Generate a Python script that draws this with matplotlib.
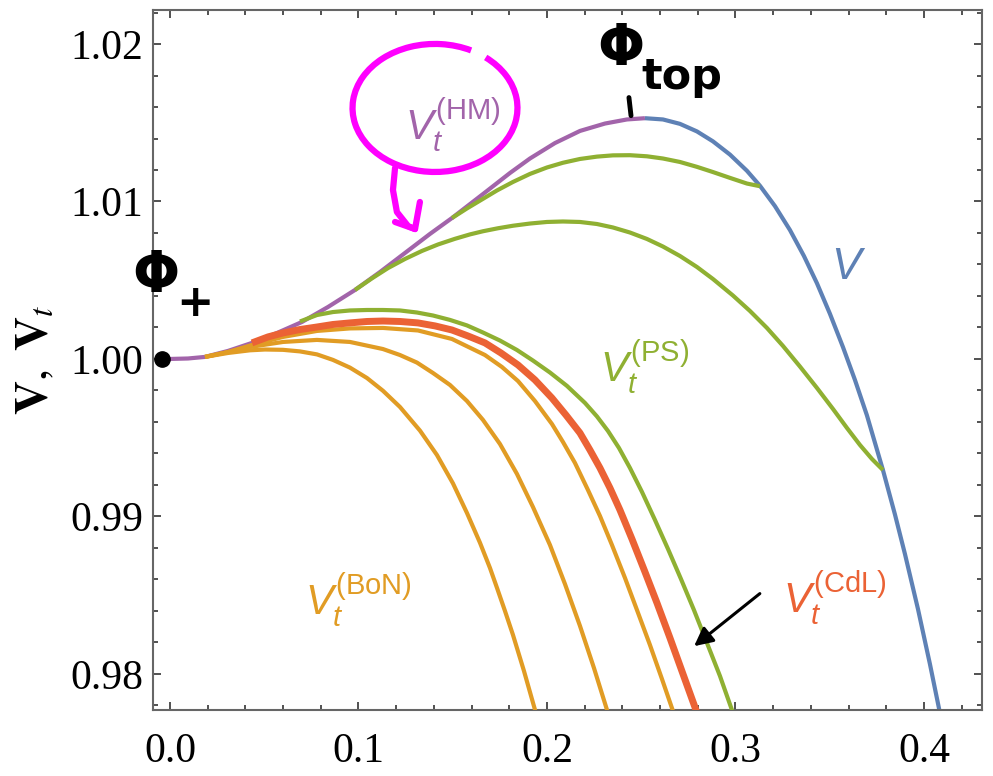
import matplotlib
matplotlib.use('Agg')
import matplotlib.pyplot as plt
from matplotlib.patches import Arc
from matplotlib.ticker import MultipleLocator, FixedLocator

plt.rcParams['mathtext.fontset'] = 'custom'
plt.rcParams['mathtext.rm'] = 'Liberation Sans'
plt.rcParams['mathtext.it'] = 'Liberation Sans:italic'
plt.rcParams['mathtext.bf'] = 'Liberation Sans:bold'

# ---------------- data ----------------
# V on [0, phi_top]  (this stretch is V_t^(HM))
hm_x = [0.0, 0.00955, 0.01857, 0.03077, 0.04350, 0.05676, 0.07003, 0.08382, 0.09814, 0.11141,
        0.12467, 0.13793, 0.14960, 0.16711, 0.18037, 0.19098, 0.20424, 0.21751, 0.23077, 0.24244, 0.25199]
hm_y = [1.00000, 1.00003, 1.00013, 1.00051, 1.00102, 1.00165, 1.00235, 1.00330, 1.00438, 1.00552,
        1.00673, 1.00794, 1.00895, 1.01057, 1.01181, 1.01273, 1.01371, 1.01448, 1.01495, 1.01521, 1.01529]

# V beyond phi_top
v_x = [0.25199, 0.26154, 0.27056, 0.27958, 0.28806, 0.29708, 0.30610, 0.31300, 0.32095, 0.32891,
       0.33634, 0.34324, 0.35013, 0.35703, 0.36340, 0.36976, 0.37825, 0.38462, 0.38992, 0.39682,
       0.40318, 0.40849, 0.41061]
v_y = [1.01529, 1.01521, 1.01493, 1.01445, 1.01382, 1.01298, 1.01195, 1.01100, 1.00971, 1.00819,
       1.00654, 1.00481, 1.00287, 1.00076, 0.99867, 0.99642, 0.99295, 0.99013, 0.98762, 0.98413,
       0.98063, 0.97752, 0.97625]

# V_t^(PS) curves
ps1_x = [0.14960, 0.15756, 0.16552, 0.17347, 0.18196, 0.19098, 0.20000, 0.20849, 0.21751, 0.22653,
         0.23501, 0.24403, 0.25305, 0.26154, 0.27056, 0.27958, 0.28806, 0.29708, 0.30610, 0.31300]
ps1_y = [1.00895, 1.00956, 1.01013, 1.01070, 1.01124, 1.01175, 1.01216, 1.01246, 1.01270, 1.01285,
         1.01293, 1.01294, 1.01287, 1.01273, 1.01251, 1.01220, 1.01187, 1.01150, 1.01114, 1.01097]

ps2_x = [0.09814, 0.10716, 0.11565, 0.12467, 0.13369, 0.14218, 0.15119, 0.15915, 0.16605, 0.17401,
         0.18196, 0.19098, 0.20000, 0.20849, 0.21751, 0.22653, 0.23501, 0.24403, 0.25305, 0.26154,
         0.27056, 0.27958, 0.28806, 0.29867, 0.30769, 0.31671, 0.32520, 0.33422, 0.34324, 0.35172,
         0.35915, 0.36605, 0.37241, 0.37825]
ps2_y = [1.00438, 1.00512, 1.00577, 1.00635, 1.00686, 1.00727, 1.00763, 1.00791, 1.00811, 1.00830,
         1.00846, 1.00860, 1.00870, 1.00873, 1.00870, 1.00857, 1.00835, 1.00803, 1.00762, 1.00714,
         1.00654, 1.00584, 1.00508, 1.00403, 1.00305, 1.00197, 1.00083, 0.99952, 0.99816, 0.99683,
         0.99562, 0.99454, 0.99365, 0.99295]

ps3_x = [0.06897, 0.07798, 0.08647, 0.09549, 0.10451, 0.11300, 0.12202, 0.13103, 0.13952, 0.14854,
         0.15756, 0.16605, 0.17507, 0.18408, 0.19257, 0.20159, 0.21061, 0.22016, 0.22653, 0.23236,
         0.23820, 0.24403, 0.25040, 0.25729, 0.26419, 0.27109, 0.27798, 0.28488, 0.29178, 0.29814, 0.30080]
ps3_y = [1.00238, 1.00279, 1.00298, 1.00308, 1.00311, 1.00311, 1.00308, 1.00295, 1.00276, 1.00248,
         1.00213, 1.00168, 1.00117, 1.00057, 0.99990, 0.99914, 0.99829, 0.99721, 0.99635, 0.99543,
         0.99435, 0.99308, 0.99156, 0.98978, 0.98794, 0.98603, 0.98406, 0.98197, 0.97987, 0.97771, 0.97676]

# V_t^(CdL)
cdl_x = [0.04350, 0.05199, 0.05995, 0.06897, 0.07798, 0.08647, 0.09549, 0.10451, 0.11300, 0.12202,
         0.13156, 0.14058, 0.14960, 0.15809, 0.16711, 0.17560, 0.18462, 0.19363, 0.20265, 0.21008,
         0.21751, 0.22281, 0.22812, 0.23342, 0.23873, 0.24509, 0.25199, 0.25836, 0.26525, 0.27215,
         0.27905, 0.28223]
cdl_y = [1.00102, 1.00140, 1.00165, 1.00187, 1.00203, 1.00219, 1.00229, 1.00238, 1.00241, 1.00238,
         1.00229, 1.00210, 1.00184, 1.00146, 1.00102, 1.00038, 0.99962, 0.99867, 0.99752, 0.99644,
         0.99530, 0.99422, 0.99308, 0.99181, 0.99041, 0.98857, 0.98648, 0.98451, 0.98229, 0.98000,
         0.97771, 0.97663]

# V_t^(BoN) curves
bon1_x = [0.01857, 0.03077, 0.04244, 0.05040, 0.05995, 0.06897, 0.07798, 0.08647, 0.09549, 0.10451,
          0.11300, 0.12202, 0.13263, 0.14164, 0.15013, 0.15756, 0.16446, 0.16976, 0.17347, 0.17772,
          0.18196, 0.18780, 0.19363, 0.19629]
bon1_y = [1.00013, 1.00038, 1.00055, 1.00060, 1.00058, 1.00048, 1.00029, 0.99994, 0.99945, 0.99879,
          0.99798, 0.99695, 0.99545, 0.99390, 0.99210, 0.99022, 0.98833, 0.98673, 0.98547, 0.98400,
          0.98248, 0.98019, 0.97773, 0.97663]

bon2_x = [0.01857, 0.03077, 0.04244, 0.05995, 0.07798, 0.09549, 0.11300, 0.12202, 0.13103, 0.13952,
          0.14854, 0.15756, 0.16605, 0.17507, 0.18408, 0.19257, 0.20159, 0.20955, 0.21751, 0.22493,
          0.23236, 0.23501]
bon2_y = [1.00013, 1.00044, 1.00076, 1.00108, 1.00121, 1.00108, 1.00063, 1.00025, 0.99977, 0.99911,
          0.99835, 0.99733, 0.99613, 0.99460, 0.99270, 0.99060, 0.98819, 0.98571, 0.98305, 0.98038,
          0.97752, 0.97651]

bon3_x = [0.01857, 0.03077, 0.04350, 0.05995, 0.07798, 0.09549, 0.11300, 0.13156, 0.14960, 0.16711,
          0.17613, 0.18462, 0.19363, 0.20265, 0.20849, 0.21485, 0.22175, 0.22812, 0.23448, 0.24138,
          0.24775, 0.25464, 0.26101, 0.26684, 0.27003]
bon3_y = [1.00013, 1.00044, 1.00089, 1.00140, 1.00178, 1.00194, 1.00197, 1.00181, 1.00127, 1.00025,
          0.99949, 0.99860, 0.99733, 0.99587, 0.99473, 0.99340, 0.99168, 0.99003, 0.98819, 0.98610,
          0.98406, 0.98184, 0.97968, 0.97765, 0.97657]

x_ticks = [0.0, 0.1, 0.2, 0.3, 0.4]
x_labels = ['0.0', '0.1', '0.2', '0.3', '0.4']
y_ticks = [0.98, 0.99, 1.00, 1.01, 1.02]
y_labels = ['0.98', '0.99', '1.00', '1.01', '1.02']

# ---------------- style ----------------
C_BLUE = '#5E81B5'
C_ORANGE = '#E19C24'
C_GREEN = '#8FB032'
C_RED = '#EB6235'
C_PURPLE = '#A264AA'
C_MAG = '#FF00FF'

fig = plt.figure(figsize=(9.93, 7.76), dpi=100)
ax = fig.add_axes([0.1541, 0.0851, 0.8348, 0.9020])

lw = 3.0
ax.plot(hm_x, hm_y, color=C_PURPLE, lw=lw, zorder=2, solid_capstyle='butt')
ax.plot(v_x, v_y, color=C_BLUE, lw=lw, zorder=2, solid_capstyle='butt')
for xs, ys in [(bon1_x, bon1_y), (bon2_x, bon2_y), (bon3_x, bon3_y)]:
    ax.plot(xs, ys, color=C_ORANGE, lw=lw, zorder=3, solid_capstyle='butt')
for xs, ys in [(ps1_x, ps1_y), (ps2_x, ps2_y), (ps3_x, ps3_y)]:
    ax.plot(xs, ys, color=C_GREEN, lw=lw, zorder=3, solid_capstyle='butt')
ax.plot(cdl_x, cdl_y, color=C_RED, lw=5.0, zorder=4, solid_capstyle='butt')

ax.set_xlim(-0.009, 0.4308)
ax.set_ylim(0.97771, 1.02216)

ax.xaxis.set_major_locator(FixedLocator(x_ticks))
ax.set_xticklabels(x_labels)
ax.yaxis.set_major_locator(FixedLocator(y_ticks))
ax.set_yticklabels(y_labels)
ax.xaxis.set_minor_locator(MultipleLocator(0.02))
ax.yaxis.set_minor_locator(MultipleLocator(0.002))
ax.tick_params(which='both', direction='in', top=True, right=True, color='#333333')
ax.tick_params(which='major', length=6, width=1.2)
ax.tick_params(which='minor', length=3.5, width=1.2)
ax.tick_params(axis='x', which='major', pad=16)
ax.tick_params(axis='y', which='major', pad=7)
for lab in ax.get_xticklabels() + ax.get_yticklabels():
    lab.set_fontfamily('Liberation Serif')
    lab.set_fontsize(30)
for sp in ax.spines.values():
    sp.set_color('#666666')
    sp.set_linewidth(1.5)

ax.set_ylabel(r'$\mathbf{V},\ \mathbf{V}_{t}$', fontsize=34, math_fontfamily='stix')
ax.yaxis.set_label_coords(-0.116, 0.5)

# curve labels
ax.text(0.3602, 1.0059, r'$V$', color=C_BLUE, fontsize=32, ha='center', va='center')
ax.text(0.1247, 1.01390, r'$V_t^{\mathrm{(HM)}}$', color=C_PURPLE, fontsize=30, ha='left', va='baseline')
ax.text(0.2281, 0.99854, r'$V_t^{\mathrm{(PS)}}$', color=C_GREEN, fontsize=30, ha='left', va='baseline')
ax.text(0.0716, 0.98375, r'$V_t^{\mathrm{(BoN)}}$', color=C_ORANGE, fontsize=30, ha='left', va='baseline')
ax.text(0.3252, 0.98387, r'$V_t^{\mathrm{(CdL)}}$', color=C_RED, fontsize=30, ha='left', va='baseline')

# hand-drawn annotations
ax.plot([-0.004], [1.0], 'o', color='black', ms=11, zorder=10, clip_on=False)
ax.text(-0.0075, 1.00520, 'Φ', fontsize=40, fontweight='bold', family='DejaVu Sans',
        ha='center', va='center', zorder=10)
ax.text(0.0130, 1.00350, '+', fontsize=32, fontweight='bold', family='DejaVu Sans',
        ha='center', va='center', zorder=10)
ax.text(0.2390, 1.01960, 'Φ', fontsize=40, fontweight='bold', family='DejaVu Sans',
        ha='center', va='center', zorder=10)
ax.text(0.2715, 1.01790, 'top', fontsize=31, fontweight='bold', family='DejaVu Sans',
        ha='center', va='center', zorder=10)
ax.plot([0.2435, 0.2446], [1.01660, 1.01545], color='black', lw=3.5, solid_capstyle='round', zorder=10)

ax.add_patch(Arc((0.1406, 1.01594), 0.0875, 0.00813, theta1=10.8, theta2=366.8,
                 color=C_MAG, lw=4.5, zorder=9))
ax.plot([0.1194, 0.1183, 0.1204, 0.1263, 0.1300], [1.01213, 1.01073, 1.00933, 1.00844, 1.00825],
        color=C_MAG, lw=4.5, solid_capstyle='round', solid_joinstyle='round', zorder=9)
ax.plot([0.1194, 0.1300, 0.1326], [1.00870, 1.00825, 1.00997],
        color=C_MAG, lw=4.5, solid_capstyle='round', solid_joinstyle='round', zorder=9)

ax.annotate('', xy=(0.2769, 0.98165), xytext=(0.3141, 0.98521),
            arrowprops=dict(arrowstyle='-|>', color='black', lw=2.2, mutation_scale=28))

fig.savefig('out.png', dpi=100)
